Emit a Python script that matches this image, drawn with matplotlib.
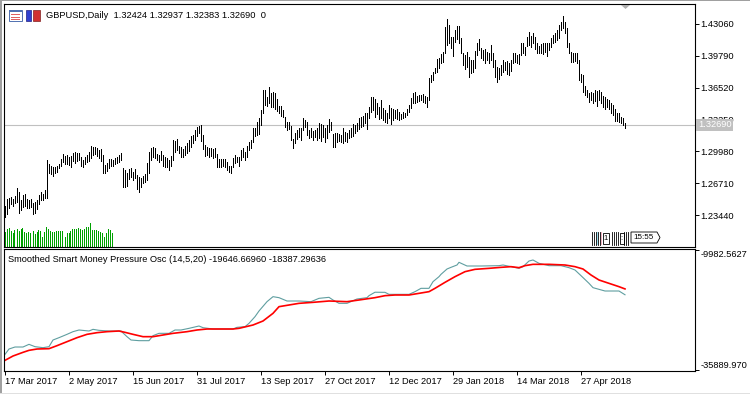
import matplotlib
matplotlib.use("Agg")
import matplotlib.pyplot as plt
import numpy as np
from matplotlib.patches import Rectangle, Polygon
from matplotlib.transforms import blended_transform_factory

plt.rcParams["font.family"] = ["Liberation Sans", "DejaVu Sans"]

# ---- data ----
bar_high = [
    1.2437, 1.2505, 1.2515, 1.2526, 1.2505, 1.2540, 1.2618, 1.2584, 1.2498, 1.2550,
    1.2560, 1.2505, 1.2498, 1.2505, 1.2471, 1.2481, 1.2498, 1.2550, 1.2584, 1.2560,
    1.2601, 1.2909, 1.2868, 1.2848, 1.2841, 1.2841, 1.2848, 1.2868, 1.2916, 1.2971,
    1.2950, 1.2961, 1.2944, 1.2950, 1.2985, 1.2995, 1.2978, 1.2985, 1.2937, 1.2909,
    1.2944, 1.2961, 1.2995, 1.3053, 1.3046, 1.3046, 1.3029, 1.3012, 1.3019, 1.2961,
    1.2858, 1.2882, 1.2916, 1.2916, 1.2909, 1.2926, 1.2944, 1.2961, 1.2985, 1.2824,
    1.2806, 1.2772, 1.2813, 1.2824, 1.2789, 1.2813, 1.2755, 1.2731, 1.2721, 1.2745,
    1.2765, 1.2875, 1.2995, 1.3029, 1.3039, 1.3029, 1.2971, 1.2961, 1.3005,
    1.2961, 1.2944, 1.2926, 1.2909, 1.2950, 1.3115, 1.3108, 1.3122, 1.3053, 1.3039,
    1.3019, 1.3053, 1.3087, 1.3115, 1.3156, 1.3166, 1.3218, 1.3252, 1.3259, 1.3269,
    1.3166, 1.3063, 1.3046, 1.3029, 1.3029, 1.3019, 1.3029, 1.2971, 1.2916, 1.2916,
    1.2923, 1.2916, 1.2892, 1.2848, 1.2848, 1.2926, 1.2961, 1.2944, 1.2944, 1.3012,
    1.3029, 1.2995, 1.3053, 1.3098, 1.3115, 1.3235, 1.3235, 1.3303, 1.3337, 1.3423,
    1.3628, 1.3628, 1.3560, 1.3662, 1.3601, 1.3611, 1.3594, 1.3533, 1.3464, 1.3464,
    1.3423, 1.3355, 1.3303, 1.3303, 1.3259, 1.3122, 1.3190, 1.3218, 1.3235, 1.3235,
    1.3337, 1.3320, 1.3303, 1.3218, 1.3235, 1.3210, 1.3218, 1.3235,
    1.3286, 1.3279, 1.3269, 1.3235, 1.3269, 1.3327, 1.3303, 1.3176, 1.3183, 1.3183,
    1.3176, 1.3166, 1.3235, 1.3200, 1.3190, 1.3218, 1.3235, 1.3279, 1.3269, 1.3286,
    1.3337, 1.3355, 1.3361, 1.3389, 1.3396, 1.3457, 1.3553, 1.3553, 1.3533, 1.3491,
    1.3457, 1.3526, 1.3440, 1.3423, 1.3389, 1.3474, 1.3440, 1.3430, 1.3423, 1.3430,
    1.3406, 1.3382, 1.3406, 1.3396, 1.3430, 1.3474, 1.3543, 1.3594, 1.3611, 1.3567,
    1.3577, 1.3577, 1.3587, 1.3567, 1.3560, 1.3748, 1.3782, 1.3816, 1.3850, 1.3943,
    1.3953, 1.3998, 1.4022, 1.4279, 1.4354, 1.4296, 1.4176, 1.4176, 1.4245, 1.4286,
    1.4286, 1.4159, 1.4012, 1.3990, 1.4020, 1.3971, 1.3936, 1.3936, 1.4032, 1.4108,
    1.4149, 1.4056, 1.4039, 1.4046, 1.4022, 1.4012, 1.4091, 1.4005, 1.3936, 1.3868,
    1.3851, 1.3885, 1.3936, 1.3919, 1.3929, 1.3902, 1.3936, 1.4012, 1.4012, 1.3988,
    1.3998, 1.4108, 1.4108, 1.4073, 1.4176, 1.4227, 1.4183, 1.4217, 1.4169, 1.4108,
    1.4080, 1.4101, 1.4108, 1.4108, 1.4114, 1.4108, 1.4159, 1.4193, 1.4217, 1.4245,
    1.4296, 1.4330, 1.4388, 1.4330, 1.4262, 1.4108, 1.4022, 1.4012, 1.4012, 1.4005,
    1.3936, 1.3793, 1.3782, 1.3669, 1.3628, 1.3601, 1.3611, 1.3594, 1.3628, 1.3621,
    1.3628, 1.3611, 1.3567, 1.3553, 1.3533, 1.3526, 1.3498, 1.3474, 1.3430, 1.3396,
    1.3389, 1.3348, 1.3337, 1.32937,
]
bar_low = [
    1.2327, 1.2355, 1.2413, 1.2457, 1.2437, 1.2464, 1.2481, 1.2368, 1.2396, 1.2430,
    1.2437, 1.2413, 1.2413, 1.2423, 1.2355, 1.2361, 1.2403, 1.2457, 1.2498, 1.2498,
    1.2515, 1.2515, 1.2772, 1.2765, 1.2745, 1.2772, 1.2789, 1.2824, 1.2848, 1.2892,
    1.2868, 1.2868, 1.2858, 1.2834, 1.2902, 1.2882, 1.2902, 1.2909, 1.2848, 1.2841,
    1.2868, 1.2892, 1.2902, 1.2926, 1.2961, 1.2971, 1.2950, 1.2926, 1.2902, 1.2772,
    1.2779, 1.2800, 1.2824, 1.2848, 1.2848, 1.2868, 1.2875, 1.2892, 1.2909, 1.2629,
    1.2635, 1.2642, 1.2711, 1.2731, 1.2704, 1.2721, 1.2608, 1.2584, 1.2635, 1.2670,
    1.2687, 1.2704, 1.2772, 1.2909, 1.2944, 1.2926, 1.2909, 1.2892, 1.2909,
    1.2848, 1.2834, 1.2841, 1.2807, 1.2848, 1.2909, 1.2995, 1.3012, 1.2978, 1.2937,
    1.2944, 1.2961, 1.2985, 1.3005, 1.3039, 1.3081, 1.3115, 1.3156, 1.3190, 1.3108,
    1.3019, 1.2950, 1.2961, 1.2937, 1.2950, 1.2926, 1.2937, 1.2841, 1.2841, 1.2841,
    1.2848, 1.2834, 1.2807, 1.2790, 1.2773, 1.2834, 1.2875, 1.2892, 1.2848, 1.2909,
    1.2944, 1.2909, 1.2944, 1.3012, 1.3029, 1.3098, 1.3156, 1.3166, 1.3176, 1.3269,
    1.3389, 1.3474, 1.3464, 1.3491, 1.3457, 1.3450, 1.3430, 1.3416, 1.3389, 1.3361,
    1.3355, 1.3252, 1.3218, 1.3224, 1.3115, 1.3029, 1.3081, 1.3122, 1.3149, 1.3115,
    1.3218, 1.3252, 1.3166, 1.3132, 1.3142, 1.3115, 1.3149, 1.3115,
    1.3132, 1.3108, 1.3149, 1.3098, 1.3132, 1.3200, 1.3218, 1.3040, 1.3047, 1.3098,
    1.3108, 1.3098, 1.3087, 1.3108, 1.3098, 1.3132, 1.3149, 1.3156, 1.3183, 1.3211,
    1.3224, 1.3252, 1.3259, 1.3286, 1.3224, 1.3337, 1.3406, 1.3423, 1.3355, 1.3382,
    1.3327, 1.3337, 1.3320, 1.3303, 1.3293, 1.3337, 1.3279, 1.3320, 1.3337, 1.3327,
    1.3320, 1.3327, 1.3337, 1.3348, 1.3372, 1.3406, 1.3440, 1.3491, 1.3491, 1.3508,
    1.3519, 1.3526, 1.3508, 1.3491, 1.3457, 1.3526, 1.3714, 1.3731, 1.3799, 1.3816,
    1.3850, 1.3902, 1.3919, 1.4005, 1.4090, 1.4108, 1.4056, 1.3978, 1.4125, 1.4149,
    1.4108, 1.4005, 1.3880, 1.3841, 1.3860, 1.3765, 1.3799, 1.3816, 1.3850, 1.3988,
    1.4039, 1.3953, 1.3936, 1.3909, 1.3936, 1.3902, 1.3936, 1.3868, 1.3765, 1.3714,
    1.3738, 1.3782, 1.3816, 1.3833, 1.3792, 1.3782, 1.3827, 1.3902, 1.3919, 1.3909,
    1.3895, 1.3988, 1.4005, 1.3988, 1.4080, 1.4090, 1.4073, 1.4108, 1.4046, 1.4012,
    1.4005, 1.4005, 1.3998, 1.4022, 1.3978, 1.4039, 1.4073, 1.4108, 1.4125, 1.4142,
    1.4159, 1.4245, 1.4262, 1.4210, 1.4073, 1.4005, 1.3919, 1.3919, 1.3929, 1.3909,
    1.3731, 1.3714, 1.3611, 1.3577, 1.3553, 1.3509, 1.3526, 1.3491, 1.3519, 1.3464,
    1.3526, 1.3491, 1.3450, 1.3430, 1.3457, 1.3430, 1.3389, 1.3372, 1.3313, 1.3313,
    1.3303, 1.3286, 1.3269, 1.32383,
]
volume = [
    148, 172, 182, 158, 138, 165, 172, 158, 172, 182, 148, 138, 148, 132, 158,
    125, 148, 165, 158, 98, 148, 192, 172, 158, 148, 148, 158, 158, 158, 158,
    98, 132, 138, 158, 172, 172, 172, 182, 172, 165, 172, 192, 198, 238, 165,
    165, 165, 158, 148, 132, 98, 138, 172, 165, 138,
]

osc_main_idx = [
    0, 2, 5, 9, 12, 15, 19, 22, 24, 27, 31, 34, 37, 42, 44, 47, 52, 58, 61, 63,
    67, 72, 74, 77, 82, 85, 88, 92, 97, 99, 104, 114, 116, 120, 122, 125, 127, 131, 134, 137,
    141, 147, 153, 157, 162, 164, 167, 171, 176, 181, 182, 185, 190, 192, 195, 202, 205, 208, 212, 214,
    217, 218, 221, 223, 226, 227, 231, 238, 247, 249, 253, 257, 259, 262, 264, 267, 272, 278, 282, 285,
    288, 292, 294, 300, 307, 310,
]
osc_main = [
    -32509, -31358, -30926, -30926, -30350, -30854, -31070, -30854, -29414, -28911,
    -28191, -27615, -27255, -27471, -27111, -27327, -27471, -27471, -28695, -29414,
    -29558, -29558, -28479, -27975, -27975, -27255, -27255, -26896, -26392, -26752,
    -27039, -27039, -26679, -26536, -25816, -24377, -23153, -21138, -20058, -20274,
    -20994, -20994, -21138, -20418, -20202, -20778, -21498, -21498, -20562, -20274,
    -19842, -19100, -19123, -19555, -19555, -19555, -18979, -18259, -18259, -16820,
    -15740, -15236, -14085, -13725, -13221, -12645, -13437, -13437, -13365, -13221,
    -13581, -13941, -13581, -12358, -12142, -12861, -13365, -13365, -13797, -14301,
    -15524, -17180, -18115, -18835, -18835, -19646.6696,
]
osc_sig_idx = [
    0, 4, 9, 12, 16, 22, 26, 31, 36, 41, 46, 51, 57, 60, 64, 69, 74, 79, 84, 91,
    96, 101, 114, 117, 124, 129, 134, 137, 142, 147, 154, 162, 171, 177, 185, 190, 195, 202, 207, 212,
    215, 220, 225, 230, 235, 242, 248, 253, 257, 260, 264, 272, 280, 285, 289, 293, 297, 302, 307, 310,
]
osc_sig = [
    -33805, -32869, -32078, -31646, -31358, -31286, -30638, -29774, -28911, -28191,
    -27831, -27615, -27471, -27759, -28191, -28695, -28695, -28335, -27975, -27615,
    -27255, -27039, -27039, -26896, -26176, -25312, -23657, -22217, -21858, -21498,
    -21282, -20994, -21138, -20778, -20274, -19842, -19699, -19699, -19339, -18979,
    -18259, -16964, -15740, -14661, -14157, -13941, -13725, -13581, -13797, -13365,
    -13077, -13077, -13221, -13581, -14085, -15380, -16460, -17180, -17900, -18387.29636,
]

price_ticks = [1.43060, 1.39790, 1.36520, 1.33250, 1.29980, 1.26710, 1.23440]
last_price = 1.32690
osc_ticks = [-9982.5627, -35889.970]
date_idx = [0, 32, 64, 96, 128, 160, 192, 224, 256, 288]
date_labels = ["17 Mar 2017", "2 May 2017", "15 Jun 2017", "31 Jul 2017", "13 Sep 2017",
               "27 Oct 2017", "12 Dec 2017", "29 Jan 2018", "14 Mar 2018", "27 Apr 2018"]
header = "GBPUSD,Daily  1.32424 1.32937 1.32383 1.32690  0"
osc_title = "Smoothed Smart Money Pressure Osc (14,5,20) -19646.66960 -18387.29636"

W, H = 750, 394
FS = 6.7
XLIM = (-0.5, 345)


def rect(top, bottom):
    return [4 / W, 1 - bottom / H, 691 / W, (bottom - top) / H]


fig = plt.figure(figsize=(W / 100, H / 100), dpi=100)
fig.patch.set_facecolor("white")

# ---- main price window ----
vax = fig.add_axes(rect(4, 246.5), frameon=False)
vax.bar(np.arange(len(volume)), volume, width=0.5, color="#00A000", linewidth=0)
vax.set_xlim(*XLIM)
vax.set_ylim(0, 2425)
vax.axis("off")

ax = fig.add_axes(rect(4, 246.5))
ax.patch.set_visible(False)
ax.axhline(last_price, color="#C0C0C0", linewidth=0.8, zorder=1)
x = np.arange(len(bar_high))
ax.vlines(x, bar_low, bar_high, colors="black", linewidth=0.55, antialiased=False, zorder=3)
ax.set_xlim(*XLIM)
ax.set_ylim(1.2021, 1.4511)
ax.set_xticks([])
ax.yaxis.tick_right()
ax.set_yticks(price_ticks)
ax.set_yticklabels([f"{t:.5f}" for t in price_ticks])
ax.tick_params(axis="y", direction="out", length=3, width=0.7, pad=1, labelsize=FS)
for s in ax.spines.values():
    s.set_linewidth(0.8)

# the 1.33250 label sits partly behind the last-price box, as in the terminal
tr = blended_transform_factory(ax.transAxes, ax.transData)
ax.text(1 + 3 / 691, last_price, "1.32690", transform=tr, ha="left", va="center",
        fontsize=FS, color="white", zorder=10, clip_on=False,
        bbox=dict(boxstyle="square,pad=0.18", fc="#C0C0C0", ec="none"))

# ---- oscillator window ----
ax2 = fig.add_axes(rect(248.5, 371))
ax2.plot(osc_main_idx, osc_main, color="#5F9EA0", linewidth=0.8)
ax2.plot(osc_sig_idx, osc_sig, color="#FF0000", linewidth=1.2)
ax2.set_xlim(*XLIM)
ax2.set_ylim(-36106, -9659)
ax2.yaxis.tick_right()
ax2.set_yticks(osc_ticks)
ax2.set_yticklabels(["-9982.5627", "-35889.970"])
ax2.tick_params(axis="y", direction="out", length=3, width=0.7, pad=1, labelsize=FS)
labs = ax2.get_yticklabels()
labs[0].set_va("top")
labs[1].set_va("bottom")
ax2.set_xticks(date_idx)
ax2.set_xticklabels(date_labels, ha="left")
ax2.tick_params(axis="x", direction="out", length=3, width=0.7, pad=1.5, labelsize=FS)
for s in ax2.spines.values():
    s.set_linewidth(0.8)

# ---- overlay in pixel units for window decorations ----
ov = fig.add_axes([0, 0, 1, 1], frameon=False)
ov.set_xlim(0, W)
ov.set_ylim(H, 0)
ov.axis("off")
ov.patch.set_visible(False)

ov.add_patch(Rectangle((0, 0), 1.5, H, fc="#A0A0A0", ec="none"))
ov.add_patch(Rectangle((0, 0), W, 1.2, fc="#A0A0A0", ec="none"))
ov.add_patch(Rectangle((0, H - 1.5), W, 1.5, fc="#E0E0E0", ec="none"))

ov.text(46, 15, header, fontsize=FS, va="center", ha="left")
ov.text(8, 259, osc_title, fontsize=FS, va="center", ha="left")

# chart icons
ov.add_patch(Rectangle((8.5, 9.5), 13, 11, fc="white", ec="#5070B0", lw=0.7))
ov.add_patch(Rectangle((8.5, 9.5), 13, 2.5, fc="#5070B0", ec="none"))
for yy in (14, 16.5, 19):
    ov.add_patch(Rectangle((10.5, yy), 9, 1.2, fc="#E06060", ec="none"))
ov.add_patch(Rectangle((25.5, 10), 5.5, 10.5, fc="#3040D0", ec="#202080", lw=0.5))
ov.add_patch(Rectangle((33, 10), 6.5, 10.5, fc="#D03030", ec="#802020", lw=0.5))

# shift marker
ov.add_patch(Polygon([[621, 5], [630, 5], [625.5, 9]], closed=True, fc="#B0B0B0", ec="none"))

# countdown widget
for xx in (592, 594, 596, 598, 600, 612, 614, 616, 618, 624, 626, 628):
    ov.plot([xx, xx], [232, 245], color="black", lw=0.6)
ov.add_patch(Rectangle((596.5, 232), 1.5, 13, fc="#A0E0F0", ec="none"))
ov.add_patch(Rectangle((600.5, 232), 1.5, 13, fc="#F0B0C0", ec="none"))
ov.add_patch(Rectangle((603, 232.5), 6, 11, fc="white", ec="black", lw=0.6))
ov.text(606, 238, "1", fontsize=5.5, ha="center", va="center")
ov.add_patch(Rectangle((619.5, 232.5), 4, 11, fc="white", ec="black", lw=0.6))
ov.text(621.5, 238, ":", fontsize=5.5, ha="center", va="center")
ov.add_patch(Polygon([[631, 232], [657, 232], [660, 237.5], [657, 243], [631, 243]],
                     closed=True, fc="white", ec="black", lw=0.6))
ov.text(644, 237.7, "15:55", fontsize=5.8, ha="center", va="center")

fig.savefig("out.png", dpi=100)
